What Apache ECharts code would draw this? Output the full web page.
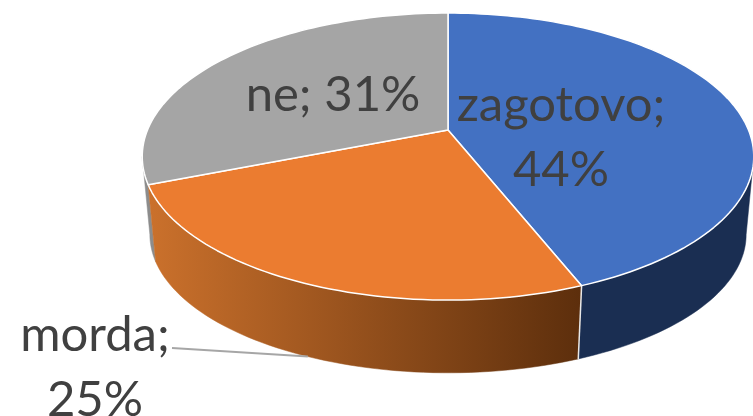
<!DOCTYPE html>
<html>
<head>
<meta charset="utf-8">
<style>html,body{margin:0;padding:0;background:#fff}#c{width:753px;height:416px}</style>
<script src="https://cdn.jsdelivr.net/npm/echarts@6/dist/echarts.min.js"></script>
</head>
<body>
<div id="c"></div>
<script>
const categories = ['zagotovo', 'morda', 'ne'];
const values = [44, 25, 31];
const topColors = ['#4371C2', '#EB7C30', '#A5A5A5'];
const sideFills = ['#1A2E52',
  {type:'linear',x:147,y:0,x2:585,y2:0,global:true,colorStops:[{offset:0,color:'#CB712C'},{offset:1,color:'#5C2E0C'}]},
  '#8C8C8C'];
const sideOrder = [2, 3, 1];
const labelCenters = [[561, 138], [95, 368], [333, 95]];
const labelLines = [true, true, false];
const leaderStart = [172, 348];

const persp = 0.185;
const topRim = {cx:448, cy:130, a:300.5, b:138.6};
const baseRim = {cx:448, cy:209, a:293, b:133.5};
const total = values.reduce((s, v) => s + v, 0);
// fractions of the turn where the rim's silhouette reaches its right and left extremes
const silhouetteRight = Math.acos(-persp) / (2 * Math.PI);
const silhouetteLeft = 1 - silhouetteRight;

function project(rim, frac) {
  const t = frac * 2 * Math.PI, X = Math.sin(t), Y = -Math.cos(t), w = 1 - persp * Y;
  return [rim.cx + rim.a * X / w, rim.cy + rim.b * Y / w];
}
function arc(rim, f0, f1) {
  const pts = [], n = Math.max(8, Math.ceil((f1 - f0) * 240));
  for (let i = 0; i <= n; i++) pts.push(project(rim, f0 + (f1 - f0) * i / n));
  return pts;
}
function span(i) {
  let s = 0;
  for (let k = 0; k < i; k++) s += values[k];
  return [s / total, (s + values[i]) / total];
}
function renderSide(params) {
  const i = params.dataIndex, [f0, f1] = span(i);
  const a = Math.max(f0, silhouetteRight), b = Math.min(f1, silhouetteLeft);
  const pts = arc(topRim, a, b).concat(arc(baseRim, a, b).reverse());
  const children = [{type:'polygon', z2:sideOrder[i], shape:{points:pts}, style:{fill:sideFills[i], stroke:sideFills[i], lineWidth:0.5}}];
  if (i === 0) {
    children.push({type:'line', z2:5, shape:{x1:project(topRim,f1)[0], y1:project(topRim,f1)[1], x2:project(baseRim,f1)[0], y2:project(baseRim,f1)[1]}, style:{stroke:'#E8E8E8', lineWidth:1.5}});
  }
  return {type:'group', children};
}
function renderTop(params) {
  const i = params.dataIndex, [f0, f1] = span(i);
  const apex = [topRim.cx, topRim.cy];
  const pts = [apex].concat(arc(topRim, f0, f1));
  const children = [{type:'polygon', z2:10, shape:{points:pts}, style:{fill:topColors[i], stroke:'#FFFFFF', lineWidth:1.5, lineJoin:'round'}}];
  const text = categories[i] + ';' + (labelLines[i] ? '\n' : ' ') + values[i] + '%';
  children.push({type:'text', z2:20, style:{text, x:labelCenters[i][0], y:labelCenters[i][1], align:'center', verticalAlign:'middle', fontFamily:'Lato', fontSize:49, lineHeight:65, fill:'#404040'}});
  if (labelLines[i] && i === 1) {
    const end = project(baseRim, (f0 + f1) / 2);
    children.push({type:'line', z2:15, shape:{x1:leaderStart[0], y1:leaderStart[1], x2:end[0], y2:end[1]}, style:{stroke:'#A6A6A6', lineWidth:2}});
  }
  return {type:'group', children};
}
const chart = echarts.init(document.getElementById('c'), null, {renderer:'canvas'});
chart.setOption({
  animation:false,
  backgroundColor:'#FFFFFF',
  series:[
    {type:'custom', coordinateSystem:'none', z:1, silent:true, clip:false, data:values, renderItem:renderSide},
    {type:'custom', coordinateSystem:'none', z:2, silent:true, clip:false, data:values, renderItem:renderTop}
  ]
});
</script>
</body>
</html>
